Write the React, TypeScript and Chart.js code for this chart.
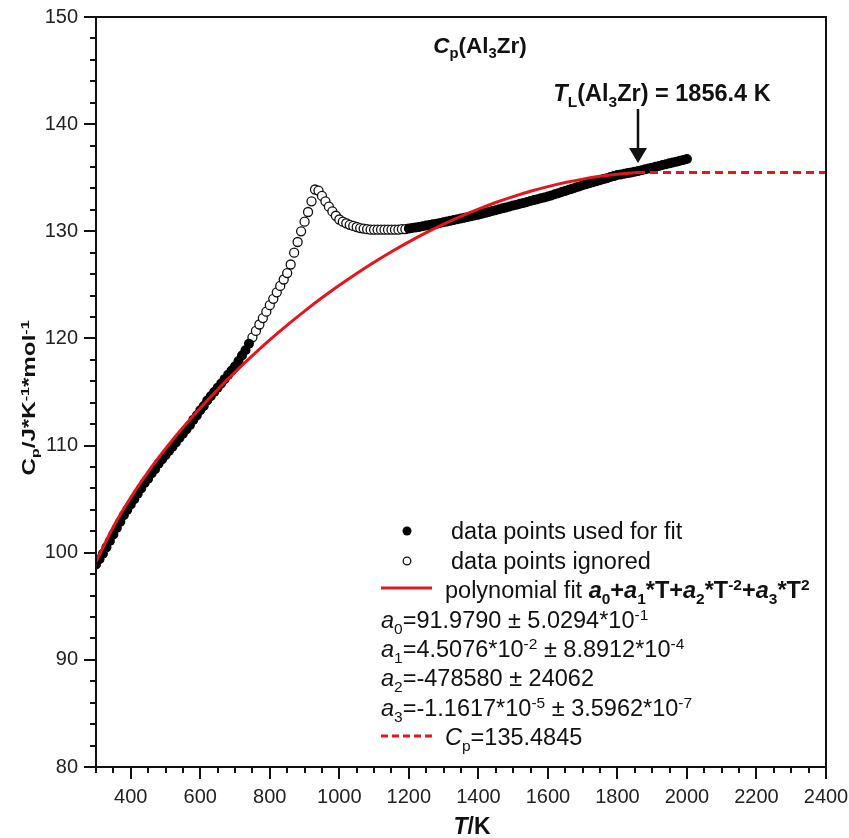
import React, { useEffect, useRef } from 'react';
import { Chart, registerables } from 'chart.js';

Chart.register(...registerables);

const FONT = '"Liberation Sans", Arial, Helvetica, sans-serif';
const RED = '#e3161c';

// ---- data ----
const usedLowT = [300, 310, 320, 330, 340, 350, 360, 370, 380, 390, 400, 410, 420, 430, 440, 450, 460, 470, 480, 490, 500, 510, 520, 530, 540, 550, 560, 570, 580, 590, 600, 610, 620, 630, 640, 650, 660, 670, 680, 690, 700, 710, 720, 730, 740];
const usedLowCp = [98.9, 99.4, 99.9, 100.5, 101.1, 101.7, 102.3, 102.9, 103.5, 104.0, 104.5, 105.0, 105.5, 106.0, 106.5, 106.9, 107.4, 107.8, 108.3, 108.7, 109.1, 109.5, 109.9, 110.3, 110.7, 111.1, 111.5, 111.9, 112.4, 112.8, 113.3, 113.7, 114.2, 114.6, 115.0, 115.4, 115.8, 116.2, 116.6, 117.0, 117.4, 117.9, 118.4, 118.9, 119.5];

const ignoredT = [750, 760, 770, 780, 790, 800, 810, 820, 830, 840, 850, 860, 870, 880, 890, 900, 910, 920, 930, 940, 950, 960, 970, 980, 990, 1000, 1010, 1020, 1030, 1040, 1050, 1060, 1070, 1080, 1090, 1100, 1110, 1120, 1130, 1140, 1150, 1160, 1170, 1180, 1190];
const ignoredCp = [120.1, 120.7, 121.3, 121.9, 122.5, 123.1, 123.7, 124.3, 124.9, 125.5, 126.1, 126.9, 128.0, 129.0, 130.0, 130.9, 131.8, 132.8, 133.9, 133.8, 133.3, 132.8, 132.3, 131.85, 131.45, 131.1, 130.9, 130.75, 130.6, 130.5, 130.4, 130.3, 130.25, 130.2, 130.15, 130.15, 130.15, 130.15, 130.15, 130.15, 130.15, 130.15, 130.15, 130.2, 130.2];

const usedHighT = [1200, 1210, 1220, 1230, 1240, 1250, 1260, 1270, 1280, 1290, 1300, 1310, 1320, 1330, 1340, 1350, 1360, 1370, 1380, 1390, 1400, 1410, 1420, 1430, 1440, 1450, 1460, 1470, 1480, 1490, 1500, 1510, 1520, 1530, 1540, 1550, 1560, 1570, 1580, 1590, 1600, 1610, 1620, 1630, 1640, 1650, 1660, 1670, 1680, 1690, 1700, 1710, 1720, 1730, 1740, 1750, 1760, 1770, 1780, 1790, 1800, 1810, 1820, 1830, 1840, 1850, 1860, 1870, 1880, 1890, 1900, 1910, 1920, 1930, 1940, 1950, 1960, 1970, 1980, 1990, 2000];
const usedHighCp = [130.25, 130.3, 130.35, 130.41, 130.47, 130.53, 130.59, 130.65, 130.71, 130.78, 130.85, 130.92, 130.99, 131.06, 131.13, 131.2, 131.27, 131.34, 131.41, 131.48, 131.55, 131.63, 131.72, 131.8, 131.89, 131.97, 132.06, 132.14, 132.23, 132.31, 132.4, 132.48, 132.57, 132.65, 132.74, 132.82, 132.91, 132.99, 133.08, 133.16, 133.25, 133.35, 133.46, 133.56, 133.67, 133.77, 133.88, 133.98, 134.09, 134.19, 134.3, 134.39, 134.49, 134.58, 134.68, 134.77, 134.87, 134.96, 135.06, 135.15, 135.25, 135.31, 135.37, 135.43, 135.49, 135.55, 135.62, 135.7, 135.78, 135.86, 135.94, 136.02, 136.1, 136.18, 136.26, 136.34, 136.42, 136.5, 136.58, 136.66, 136.75];

const fitT = [300, 350, 400, 450, 500, 550, 600, 650, 700, 750, 800, 850, 900, 950, 1000, 1050, 1100, 1150, 1200, 1250, 1300, 1350, 1400, 1450, 1500, 1550, 1600, 1650, 1700, 1750, 1800, 1850, 1856.4];
const fitCp = [99.14, 102.43, 105.16, 107.55, 109.70, 111.68, 113.51, 115.24, 116.86, 118.40, 119.86, 121.24, 122.55, 123.79, 124.96, 126.07, 127.11, 128.09, 129.01, 129.87, 130.66, 131.40, 132.07, 132.69, 133.24, 133.74, 134.17, 134.55, 134.87, 135.13, 135.33, 135.47, 135.48];

const constT = [1856.4, 2400];
const constCp = [135.4845, 135.4845];

const xTickLabels = [400, 600, 800, 1000, 1200, 1400, 1600, 1800, 2000, 2200, 2400];
const xMin = 300, xMax = 2400, xMinor = 50, xMajor = 200;
const yMin = 80, yMax = 150, yMinor = 2, yMajor = 10;

// ---- rich text ----
type Seg = { t: string; b?: boolean; i?: boolean; s?: 'sub' | 'sup' };
const segFont = (s: Seg, size: number) =>
  `${s.i ? 'italic ' : ''}${s.b ? 'bold ' : ''}${s.s ? size * 0.66 : size}px ${FONT}`;
function richWidth(ctx: CanvasRenderingContext2D, segs: Seg[], size: number) {
  let w = 0;
  for (const s of segs) { ctx.font = segFont(s, size); w += ctx.measureText(s.t).width; }
  return w;
}
function drawRich(ctx: CanvasRenderingContext2D, segs: Seg[], x: number, yMid: number, size: number, align: 'left' | 'center' = 'left') {
  const w = richWidth(ctx, segs, size);
  let cx = align === 'center' ? x - w / 2 : x;
  const base = yMid + size * 0.36;
  ctx.textAlign = 'left';
  ctx.textBaseline = 'alphabetic';
  ctx.fillStyle = '#111';
  for (const s of segs) {
    ctx.font = segFont(s, size);
    const dy = s.s === 'sub' ? size * 0.22 : s.s === 'sup' ? -size * 0.36 : 0;
    ctx.fillText(s.t, cx, base + dy);
    cx += ctx.measureText(s.t).width;
  }
}

const titleSegs: Seg[] = [
  { t: 'C', b: true, i: true }, { t: 'p', b: true, s: 'sub' }, { t: '(Al', b: true }, { t: '3', b: true, s: 'sub' }, { t: 'Zr)', b: true },
];
const tlSegs: Seg[] = [
  { t: 'T', b: true, i: true }, { t: 'L', b: true, s: 'sub' }, { t: '(Al', b: true }, { t: '3', b: true, s: 'sub' }, { t: 'Zr) = 1856.4 K', b: true },
];
const yTitleSegs: Seg[] = [
  { t: 'C', b: true }, { t: 'p', b: true, s: 'sub' }, { t: '/J*K', b: true }, { t: '-1', b: true, s: 'sup' }, { t: '*mol', b: true }, { t: '-1', b: true, s: 'sup' },
];
const xTitleSegs: Seg[] = [{ t: 'T', b: true, i: true }, { t: '/K', b: true }];
const legendRows: { y: number; x: number; segs: Seg[] }[] = [
  { y: 531, x: 451, segs: [{ t: 'data points used for fit' }] },
  { y: 561, x: 451, segs: [{ t: 'data points ignored' }] },
  { y: 590, x: 445, segs: [
    { t: 'polynomial fit ' }, { t: 'a', b: true, i: true }, { t: '0', b: true, s: 'sub' }, { t: '+', b: true },
    { t: 'a', b: true, i: true }, { t: '1', b: true, s: 'sub' }, { t: '*T+', b: true },
    { t: 'a', b: true, i: true }, { t: '2', b: true, s: 'sub' }, { t: '*T', b: true }, { t: '-2', b: true, s: 'sup' }, { t: '+', b: true },
    { t: 'a', b: true, i: true }, { t: '3', b: true, s: 'sub' }, { t: '*T', b: true }, { t: '2', b: true, s: 'sup' },
  ] },
  { y: 620, x: 381, segs: [{ t: 'a', i: true }, { t: '0', s: 'sub' }, { t: '=91.9790 ± 5.0294*10' }, { t: '-1', s: 'sup' }] },
  { y: 649, x: 381, segs: [{ t: 'a', i: true }, { t: '1', s: 'sub' }, { t: '=4.5076*10' }, { t: '-2', s: 'sup' }, { t: ' ± 8.8912*10' }, { t: '-4', s: 'sup' }] },
  { y: 678, x: 381, segs: [{ t: 'a', i: true }, { t: '2', s: 'sub' }, { t: '=-478580 ± 24062' }] },
  { y: 708, x: 381, segs: [{ t: 'a', i: true }, { t: '3', s: 'sub' }, { t: '=-1.1617*10' }, { t: '-5', s: 'sup' }, { t: ' ± 3.5962*10' }, { t: '-7', s: 'sup' }] },
  { y: 737, x: 445, segs: [{ t: 'C', i: true }, { t: 'p', s: 'sub' }, { t: '=135.4845' }] },
];

const overlay = {
  id: 'overlay',
  afterDraw(chart: any) {
    const { ctx, chartArea: a, scales } = chart;
    const xs = scales.x, ys = scales.y;
    ctx.save();
    ctx.strokeStyle = '#111';
    ctx.lineWidth = 2;
    ctx.strokeRect(a.left, a.top, a.right - a.left, a.bottom - a.top);
    ctx.beginPath();
    for (let v = yMin; v <= yMax; v += yMinor) {
      const p = Math.round(ys.getPixelForValue(v));
      const len = v % yMajor === 0 ? 12 : 6;
      ctx.moveTo(a.left - len, p); ctx.lineTo(a.left, p);
    }
    for (let v = xMin; v <= xMax; v += xMinor) {
      const p = Math.round(xs.getPixelForValue(v));
      const len = v % xMajor === 0 ? 12 : 6;
      ctx.moveTo(p, a.bottom); ctx.lineTo(p, a.bottom + len);
    }
    ctx.stroke();

    // titles
    drawRich(ctx, titleSegs, 480, 45, 22.5, 'center');
    drawRich(ctx, tlSegs, 662, 93, 23.5, 'center');
    drawRich(ctx, xTitleSegs, 472, 826, 23, 'center');
    ctx.save();
    ctx.translate(29, 398);
    ctx.rotate(-Math.PI / 2);
    ctx.scale(1.1, 0.8);
    drawRich(ctx, yTitleSegs, 0, 0, 22, 'center');
    ctx.restore();

    // arrow
    const ax = 638;
    ctx.strokeStyle = '#111';
    ctx.lineWidth = 2.5;
    ctx.beginPath(); ctx.moveTo(ax, 109); ctx.lineTo(ax, 150); ctx.stroke();
    ctx.fillStyle = '#111';
    ctx.beginPath(); ctx.moveTo(ax - 9, 148); ctx.lineTo(ax + 9, 148); ctx.lineTo(ax, 163); ctx.closePath(); ctx.fill();

    // legend
    ctx.fillStyle = '#000';
    ctx.beginPath(); ctx.arc(407, 531, 4.5, 0, Math.PI * 2); ctx.fill();
    ctx.fillStyle = '#fff'; ctx.strokeStyle = '#111'; ctx.lineWidth = 1.3;
    ctx.beginPath(); ctx.arc(407, 561, 3.8, 0, Math.PI * 2); ctx.fill(); ctx.stroke();
    ctx.strokeStyle = RED; ctx.lineWidth = 3;
    ctx.beginPath(); ctx.moveTo(381, 588); ctx.lineTo(432, 588); ctx.stroke();
    ctx.setLineDash([7, 4]);
    ctx.beginPath(); ctx.moveTo(381, 736); ctx.lineTo(433, 736); ctx.stroke();
    ctx.setLineDash([]);
    for (const r of legendRows) drawRich(ctx, r.segs, r.x, r.y, 23.5, 'left');
    ctx.restore();
  },
};

const pts = (xs: number[], ys: number[]) => xs.map((x, i) => ({ x, y: ys[i] }));
const noPad = (s: any) => { s.paddingLeft = 0; s.paddingRight = 0; s.paddingTop = 0; s.paddingBottom = 0; };

export default function App() {
  const ref = useRef<HTMLCanvasElement>(null);
  useEffect(() => {
    if (!ref.current) return;
    const chart = new Chart(ref.current, {
      type: 'scatter',
      data: {
        datasets: [
          { label: 'polynomial fit', data: pts(fitT, fitCp), showLine: true, borderColor: RED, borderWidth: 3, pointRadius: 0, cubicInterpolationMode: 'monotone' } as any,
          { label: 'Cp const', data: pts(constT, constCp), showLine: true, borderColor: RED, borderWidth: 3, borderDash: [8, 5], pointRadius: 0 } as any,
          { label: 'used low', data: pts(usedLowT, usedLowCp), pointRadius: 5, pointBackgroundColor: '#000', pointBorderColor: '#000', pointBorderWidth: 0, showLine: false },
          { label: 'used high', data: pts(usedHighT, usedHighCp), pointRadius: 5, pointBackgroundColor: '#000', pointBorderColor: '#000', pointBorderWidth: 0, showLine: false },
          { label: 'ignored', data: pts(ignoredT, ignoredCp), pointRadius: 4.5, pointBackgroundColor: '#fff', pointBorderColor: '#111', pointBorderWidth: 1.3, showLine: false },
        ],
      },
      options: {
        responsive: false,
        devicePixelRatio: 1,
        animation: false,
        events: [],
        layout: { padding: { top: 17, right: 23, left: 0, bottom: 0 } },
        plugins: { legend: { display: false }, tooltip: { enabled: false }, title: { display: false } },
        scales: {
          x: {
            type: 'linear', min: xMin, max: xMax,
            grid: { display: false, drawTicks: false },
            border: { display: false },
            afterBuildTicks: (s: any) => { s.ticks = xTickLabels.map((v) => ({ value: v })); },
            afterFit: (s: any) => { s.height = 71; noPad(s); },
            ticks: { font: { family: FONT, size: 20 }, color: '#222', padding: 18, maxRotation: 0, autoSkip: false, callback: (v: any) => String(v) },
          },
          y: {
            type: 'linear', min: yMin, max: yMax,
            grid: { display: false, drawTicks: false },
            border: { display: false },
            afterFit: (s: any) => { s.width = 96; noPad(s); },
            ticks: { stepSize: yMajor, font: { family: FONT, size: 20 }, color: '#222', padding: 18, callback: (v: any) => String(v) },
          },
        },
      },
      plugins: [overlay],
    } as any);
    return () => chart.destroy();
  }, []);
  return (
    <div style={{ position: 'absolute', left: 0, top: 0, width: 849, height: 838, background: '#fff' }}>
      <canvas ref={ref} width={849} height={838} style={{ display: 'block', width: 849, height: 838 }} />
    </div>
  );
}
